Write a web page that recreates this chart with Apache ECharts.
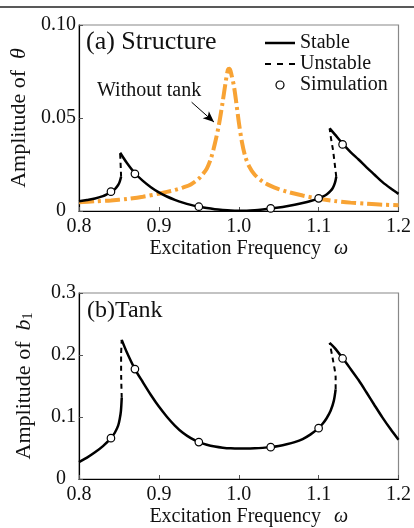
<!DOCTYPE html>
<html>
<head>
<meta charset="utf-8">
<script src="https://cdn.jsdelivr.net/npm/echarts@6/dist/echarts.min.js"></script>
<style>
  html, body { margin: 0; padding: 0; background: #fff; }
  #chart { width: 414px; height: 528px; }
</style>
</head>
<body>
<div id="chart"></div>
<script>
// x ticks shared by both panels
const freqTicks = [0.8, 0.9, 1.0, 1.1, 1.2]

// (a) structure, amplitude of theta
const thetaStable1 = [[0.8, 0.0052], [0.81, 0.0059], [0.82, 0.0067], [0.83, 0.0080], [0.835, 0.0090], [0.84, 0.0102],
  [0.845, 0.0118], [0.849, 0.0140], [0.851, 0.0158], [0.8527, 0.0184]]
const thetaUnstable1 = [[0.8527, 0.0184], [0.8524, 0.022], [0.852, 0.026], [0.8515, 0.0313]]
const thetaStable2 = [[0.8515, 0.0313], [0.86, 0.0258], [0.87, 0.0203], [0.88, 0.0162], [0.89, 0.0128], [0.9, 0.0100],
  [0.91, 0.0078], [0.92, 0.0060], [0.93, 0.0045], [0.94, 0.0033], [0.95, 0.0024], [0.96, 0.0016], [0.97, 0.0010],
  [0.98, 0.0006], [0.99, 0.0003], [1.0, 0.0002], [1.01, 0.0002], [1.02, 0.0004], [1.03, 0.0008], [1.04, 0.0013],
  [1.05, 0.0019], [1.06, 0.0026], [1.07, 0.0034], [1.08, 0.0043], [1.09, 0.0054], [1.1, 0.0068], [1.105, 0.0077],
  [1.11, 0.0089], [1.115, 0.0108], [1.118, 0.0126], [1.1205, 0.0152], [1.1221, 0.0184]]
const thetaUnstable2 = [[1.1221, 0.0184], [1.1208, 0.023], [1.118, 0.0328], [1.1155, 0.039], [1.1138, 0.0444]]
const thetaStable3 = [[1.1138, 0.0444], [1.12, 0.0413], [1.13, 0.0362], [1.14, 0.0317], [1.15, 0.0277], [1.16, 0.0235],
  [1.17, 0.0195], [1.18, 0.0155], [1.19, 0.0122], [1.2, 0.0092]]
const thetaSim = [[0.84, 0.0104], [0.87, 0.0200], [0.95, 0.0023], [1.04, 0.0014], [1.10, 0.0068], [1.13, 0.0358]]
const withoutTank = [[0.8, 0.0047], [0.82, 0.0052], [0.84, 0.0057], [0.86, 0.0065], [0.88, 0.0077], [0.9, 0.0093],
  [0.91, 0.0103], [0.92, 0.0113], [0.93, 0.0126], [0.94, 0.0143], [0.95, 0.0174], [0.955, 0.0198], [0.96, 0.0228],
  [0.965, 0.0280], [0.97, 0.0360], [0.975, 0.0460], [0.98, 0.0590], [0.9835, 0.0690], [0.9865, 0.0760], [0.9885, 0.0765],
  [0.991, 0.0730], [0.994, 0.0670], [0.997, 0.0580], [1.0, 0.0480], [1.004, 0.0370], [1.008, 0.0295], [1.013, 0.0240],
  [1.02, 0.0195], [1.03, 0.0158], [1.04, 0.0135], [1.05, 0.0118], [1.06, 0.0104], [1.08, 0.0083], [1.1, 0.0066],
  [1.12, 0.0054], [1.14, 0.0045], [1.16, 0.0039], [1.18, 0.0034], [1.2, 0.0031]]
const arrowFrom = [0.941, 0.0585]
const arrowTo = [0.969, 0.0478]

// (b) tank, amplitude of b1
const b1Stable1 = [[0.8, 0.0273], [0.81, 0.0345], [0.82, 0.043], [0.83, 0.053], [0.84, 0.0659], [0.845, 0.075],
  [0.849, 0.086], [0.851, 0.097], [0.8525, 0.110], [0.8535, 0.131]]
const b1Unstable1 = [[0.8535, 0.131], [0.8528, 0.165], [0.8527, 0.2], [0.8535, 0.2244]]
const b1Stable2 = [[0.8535, 0.2244], [0.86, 0.2040], [0.87, 0.1773], [0.88, 0.1560], [0.89, 0.1355], [0.9, 0.1168],
  [0.91, 0.1005], [0.92, 0.0862], [0.93, 0.0745], [0.94, 0.0658], [0.95, 0.0595], [0.96, 0.0553], [0.97, 0.0524],
  [0.98, 0.0505], [0.99, 0.0494], [1.0, 0.0490], [1.01, 0.0490], [1.02, 0.0494], [1.03, 0.0502], [1.04, 0.0514],
  [1.05, 0.0533], [1.06, 0.0560], [1.07, 0.0595], [1.08, 0.0645], [1.09, 0.0720], [1.1, 0.0820], [1.105, 0.0890],
  [1.11, 0.0980], [1.115, 0.1100], [1.119, 0.1260], [1.1213, 0.1446]]
const b1Unstable2 = [[1.1213, 0.1446], [1.1213, 0.164], [1.118, 0.1918], [1.1138, 0.2196]]
const b1Stable3 = [[1.1138, 0.2196], [1.12, 0.2115], [1.13, 0.1950], [1.14, 0.1775], [1.15, 0.1596], [1.16, 0.1395],
  [1.17, 0.1190], [1.18, 0.0990], [1.19, 0.0805], [1.2, 0.0632]]
const b1Sim = [[0.84, 0.0659], [0.87, 0.1773], [0.95, 0.0595], [1.04, 0.0514], [1.10, 0.082], [1.13, 0.1944]]

const font = 'Liberation Serif'
const ink = '#111'

function xAxisFor(gridIndex) {
  return {
    type: 'value',
    gridIndex: gridIndex,
    min: freqTicks[0],
    max: freqTicks[freqTicks.length - 1],
    interval: 0.1,
    name: 'Excitation Frequency  {i|ω}',
    nameLocation: 'middle',
    nameGap: 28,
    nameTextStyle: {
      fontFamily: font, fontSize: 20, color: ink, padding: [0, 0, 0, 20],
      rich: { i: { fontFamily: font, fontSize: 20, fontStyle: 'italic', color: ink, padding: [0, 0, 0, 3] } }
    },
    axisLine: { lineStyle: { color: '#000', width: 1.2 } },
    axisTick: { inside: true, length: 4, lineStyle: { color: '#555' } },
    splitLine: { show: false },
    axisLabel: {
      margin: 6, fontFamily: font, fontSize: 20, color: ink,
      formatter: v => v.toFixed(1)
    }
  }
}

function yAxisFor(gridIndex, max, interval, digits, name, rich) {
  return {
    type: 'value',
    gridIndex: gridIndex,
    min: 0,
    max: max,
    interval: interval,
    name: name,
    nameLocation: 'middle',
    nameRotate: 90,
    nameGap: 44,
    nameTextStyle: { fontFamily: font, fontSize: 22, color: ink, rich: rich },
    axisLine: { lineStyle: { color: '#000', width: 1.2 } },
    axisTick: { inside: true, length: 4, lineStyle: { color: '#555' } },
    splitLine: { show: false },
    axisLabel: {
      margin: 3, fontFamily: font, fontSize: 20, color: ink,
      formatter: v => v === 0 ? '{z|0}' : v.toFixed(digits),
      rich: { z: { fontFamily: font, fontSize: 20, color: ink, padding: [0, 10, 0, 0] } }
    }
  }
}

function stable(name, data, xi) {
  return {
    name: name, type: 'line', xAxisIndex: xi, yAxisIndex: xi, data: data,
    showSymbol: false, symbol: 'none', smooth: 0.3,
    lineStyle: { color: '#000', width: 2.5 }, itemStyle: { color: '#000' },
    silent: true, z: 3
  }
}

function unstable(data, xi) {
  return {
    name: 'Unstable', type: 'line', xAxisIndex: xi, yAxisIndex: xi, data: data,
    showSymbol: false, symbol: 'none', smooth: 0.2,
    lineStyle: { color: '#000', width: 2, type: [5, 4] }, itemStyle: { color: '#000' },
    silent: true, z: 3
  }
}

function sim(data, xi) {
  return {
    name: 'Simulation', type: 'scatter', xAxisIndex: xi, yAxisIndex: xi, data: data,
    symbol: 'circle', symbolSize: 7.5,
    itemStyle: { color: '#fff', borderColor: '#000', borderWidth: 1.2, opacity: 1 },
    silent: true, z: 5
  }
}

const chart = echarts.init(document.getElementById('chart'), null, { renderer: 'canvas' })

chart.setOption({
  animation: false,
  backgroundColor: '#fff',
  textStyle: { fontFamily: font },
  title: [
    { text: '(a) Structure', left: 86, top: 29, padding: 0, textStyle: { fontFamily: font, fontSize: 26, fontWeight: 'normal', color: ink } },
    { text: '(b)Tank', left: 87, top: 299, padding: 0, textStyle: { fontFamily: font, fontSize: 24, fontWeight: 'normal', color: ink } }
  ],
  legend: {
    data: [
      { name: 'Stable', icon: 'path://M0,0H30V2.5H0Z' },
      { name: 'Unstable', icon: 'path://M0,0H6V2H0ZM12,0H18V2H12ZM24,0H30V2H24Z' },
      { name: 'Simulation', icon: 'circle', itemStyle: { color: '#fff', borderColor: '#000', borderWidth: 1.2 } }
    ],
    orient: 'vertical',
    left: 265,
    top: 33,
    padding: 0,
    itemWidth: 30,
    itemHeight: 8,
    itemGap: 1,
    itemTextGap: 8,
    selectedMode: false,
    textStyle: { fontFamily: font, fontSize: 20, color: ink }
  },
  grid: [
    { left: 79, right: 13, top: 25, height: 186, show: true, borderColor: '#888', borderWidth: 1.2, backgroundColor: 'transparent' },
    { left: 79, right: 13, top: 293, height: 186, show: true, borderColor: '#888', borderWidth: 1.2, backgroundColor: 'transparent' }
  ],
  xAxis: [xAxisFor(0), xAxisFor(1)],
  yAxis: [
    yAxisFor(0, 0.1, 0.05, 2, 'Amplitude of  {i|θ}',
      { i: { fontFamily: font, fontSize: 22, fontStyle: 'italic', color: ink } }),
    yAxisFor(1, 0.3, 0.1, 1, 'Amplitude of  {i|b}{s|1}',
      { i: { fontFamily: font, fontSize: 22, fontStyle: 'italic', color: ink },
        s: { fontFamily: font, fontSize: 14, color: ink, verticalAlign: 'bottom', lineHeight: 22 } })
  ],
  graphic: [
    { type: 'line', shape: { x1: 0, y1: 7, x2: 414, y2: 7 }, style: { stroke: '#222', lineWidth: 1.5 } },
    { type: 'text', left: 97, top: 81, style: { text: 'Without tank', font: '20px "Liberation Serif"', fill: ink } }
  ],
  series: [
    {
      name: 'Without tank', type: 'line', xAxisIndex: 0, yAxisIndex: 0, data: withoutTank,
      showSymbol: false, symbol: 'none', smooth: 0.3,
      lineStyle: { color: '#f8a334', width: 4, type: [15, 4, 3, 4], cap: 'butt' },
      silent: true, z: 2,
      markLine: {
        silent: true,
        symbol: ['none', 'arrow'],
        symbolSize: [7, 11],
        label: { show: false },
        lineStyle: { color: '#000', width: 1, type: 'solid' },
        data: [[{ coord: arrowFrom }, { coord: arrowTo }]]
      }
    },
    stable('Stable', thetaStable1, 0),
    unstable(thetaUnstable1, 0),
    stable('Stable', thetaStable2, 0),
    unstable(thetaUnstable2, 0),
    stable('Stable', thetaStable3, 0),
    sim(thetaSim, 0),
    stable('Stable', b1Stable1, 1),
    unstable(b1Unstable1, 1),
    stable('Stable', b1Stable2, 1),
    unstable(b1Unstable2, 1),
    stable('Stable', b1Stable3, 1),
    sim(b1Sim, 1)
  ]
})
</script>
</body>
</html>
